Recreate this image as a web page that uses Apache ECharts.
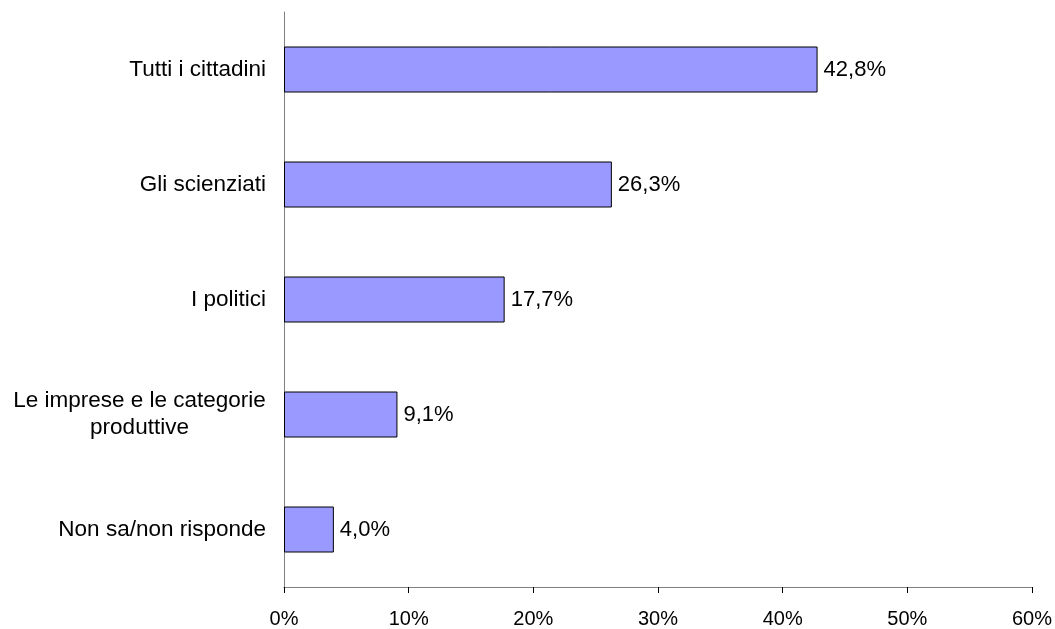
<!DOCTYPE html>
<html><head><meta charset="utf-8">
<script src="https://cdn.jsdelivr.net/npm/echarts@6/dist/echarts.min.js"></script>
<style>html,body{margin:0;padding:0;background:#fff}#c{width:1055px;height:629px}</style>
</head><body><div id="c"></div>
<script>
const categories = ["Tutti i cittadini", "Gli scienziati", "I politici", "Le imprese e le categorie\nproduttive", "Non sa/non risponde"];
const values = [42.8, 26.3, 17.7, 9.1, 4.0];
const xTicks = [0, 10, 20, 30, 40, 50, 60];

const FONT = 'Liberation Sans, Arial, sans-serif';
const chart = echarts.init(document.getElementById('c'));
chart.setOption({
  animation: false,
  grid: {left: 284, right: 21, top: 12, bottom: 41},
  xAxis: {
    type: 'value', min: xTicks[0], max: xTicks[xTicks.length - 1], interval: 10,
    axisLine: {show: true, lineStyle: {color: '#808080', width: 1}},
    axisTick: {show: true, length: 6, lineStyle: {color: '#000'}},
    splitLine: {show: false},
    axisLabel: {formatter: v => v + '%', color: '#000', fontSize: 20, fontFamily: FONT, margin: 22}
  },
  yAxis: {
    type: 'category', data: categories, inverse: true,
    axisLine: {show: true, lineStyle: {color: '#808080', width: 1}},
    axisTick: {show: false},
    axisLabel: {
      color: '#000', fontSize: 22.5, fontFamily: FONT, margin: 18, align: 'right', lineHeight: 27,
      formatter: v => v.indexOf('\n') >= 0 ? v.split('\n').map(s => '{c|' + s + '}').join('\n') : v,
      rich: {c: {width: 253, align: 'center', fontSize: 22.5, fontFamily: FONT, color: '#000', lineHeight: 27}}
    }
  },
  series: [{
    type: 'bar', data: values, barWidth: '40%',
    itemStyle: {color: '#9999FF', borderColor: '#000', borderWidth: 1},
    label: {show: true, position: 'right', distance: 6, color: '#000', fontSize: 22, fontFamily: FONT,
      formatter: p => p.value.toFixed(1).replace('.', ',') + '%'}
  }]
});
</script></body></html>
